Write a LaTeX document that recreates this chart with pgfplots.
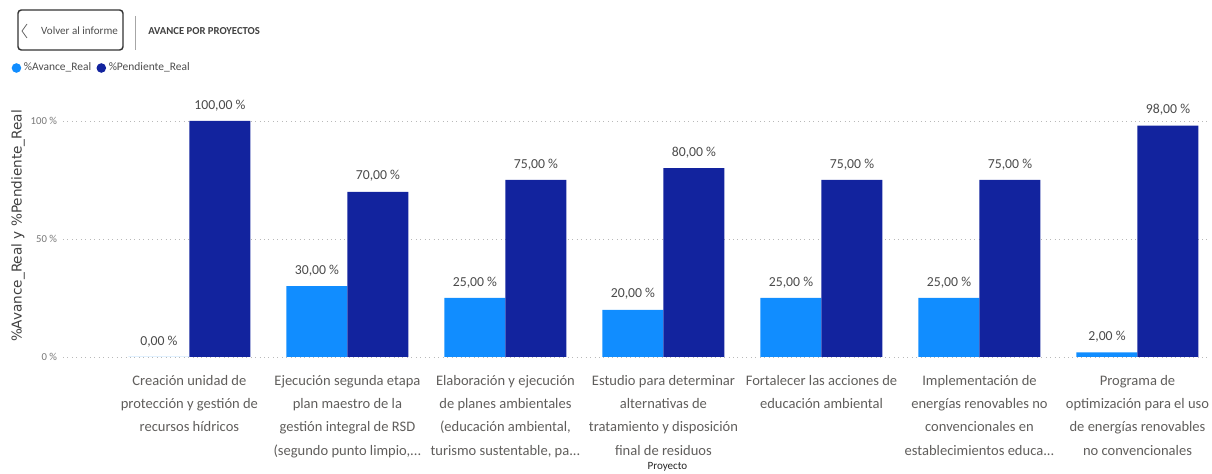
\documentclass[border=0pt]{standalone}
\usepackage{pgfplots}
\pgfplotsset{compat=1.18}
\usepackage{fontspec}
\setmainfont{Carlito}
\newfontfamily\arialfont{DejaVu Sans}
\definecolor{avance}{HTML}{118DFF}
\definecolor{pendiente}{HTML}{12239E}
\definecolor{lbl}{HTML}{605E5C}
\definecolor{val}{HTML}{4A4A4A}
\definecolor{tk}{HTML}{777777}
\newcommand{\dts}{.\kern0pt.\kern0pt.}
\begin{document}
\begin{tikzpicture}
\useasboundingbox (-47.25pt,-87.75pt) rectangle (861.75pt,267.75pt);
% header
\draw[line width=1.1pt, draw=black!80, rounded corners=2.5pt] (-33.75pt,230.25pt) rectangle (45pt,260.25pt);
\draw[line width=0.6pt, black!60] (-27pt,249.75pt) -- (-30.75pt,244.5pt) -- (-27pt,239.25pt);
\node[font=\fontsize{8.3}{9}\selectfont, text=black!70] at (12.375pt,244.5pt) {Volver al informe};
\draw[black!35, line width=0.6pt] (54pt,255.75pt) -- (54pt,230.25pt);
\node[anchor=west, inner sep=0pt, font=\fontsize{8}{9}\selectfont\bfseries, text=black!75] at (63.75pt,244.5pt) {AVANCE POR PROYECTOS};
\begin{axis}[
    width=860.25pt, height=177pt,
    scale only axis,
    clip=false,
    xmin=-0.8, xmax=6.459,
    ymin=0, ymax=100,
    ybar=0pt,
    bar width=45.75pt,
    axis line style={draw=none},
    major tick length=0pt,
    ymajorgrids,
    grid style={dash pattern=on 0.75pt off 2.6pt, gray!55, line width=0.6pt},
    ytick={0,50,100},
    yticklabels={0 \%,50 \%,100 \%},
    yticklabel style={font=\fontsize{8}{9}\selectfont, text=tk, xshift=-1pt},
    xtick={0,1,2,3,4,5,6},
    xticklabels={
      {Creación unidad de\\protección y gestión de\\recursos hídricos},
      {Ejecución segunda etapa\\plan maestro de la\\gestión integral de RSD\\(segundo punto limpio,\dts},
      {Elaboración y ejecución\\de planes ambientales\\(educación ambiental,\\turismo sustentable, pa\dts},
      {Estudio para determinar\\alternativas de\\tratamiento y disposición\\final de residuos},
      {Fortalecer las acciones de\\educación ambiental},
      {Implementación de\\energías renovables no\\convencionales en\\establecimientos educa\dts},
      {Programa de\\optimización para el uso\\de energías renovables\\no convencionales}},
    xticklabel style={align=center, anchor=north, yshift=-10.5pt,
      font=\fontsize{10.9}{17.3}\selectfont, text=lbl},
    xlabel={Proyecto},
    xlabel style={at={(axis description cs:0.527,-0.466)}, anchor=center,
      font=\fontsize{8.3}{9}\selectfont, text=black!85},
    ylabel={\%Avance\_Real y \%Pendiente\_Real},
    ylabel style={at={(axis description cs:-0.0392,0.555)}, anchor=center, rotate=0,
      font=\arialfont\fontsize{10.2}{11}\selectfont, text=black!75},
    nodes near coords={\pgfmathprintnumber[fixed, fixed zerofill, precision=2, use comma, assume math mode=true]{\pgfplotspointmeta}~\%},
    nodes near coords style={font=\fontsize{10.3}{12}\selectfont, text=val, anchor=south, yshift=4pt},
    legend columns=2,
    legend style={at={(axis description cs:-0.045,1.2246)}, anchor=west, draw=none, fill=none,
      font=\fontsize{8.6}{10}\selectfont, text=black!70, inner sep=0pt,
      /tikz/every even column/.append style={column sep=2pt}},
    every axis plot post/.append style={legend image code/.code={\fill[#1] (0.22cm,0cm) circle (3.6pt);}},
]
\addplot[fill=avance, draw=none] coordinates {(0,0) (1,30) (2,25) (3,20) (4,25) (5,25) (6,2)};
\addplot[fill=pendiente, draw=none] coordinates {(0,100) (1,70) (2,75) (3,80) (4,75) (5,75) (6,98)};
\legend{\%Avance\_Real,\%Pendiente\_Real}
\end{axis}
\end{tikzpicture}
\end{document}
